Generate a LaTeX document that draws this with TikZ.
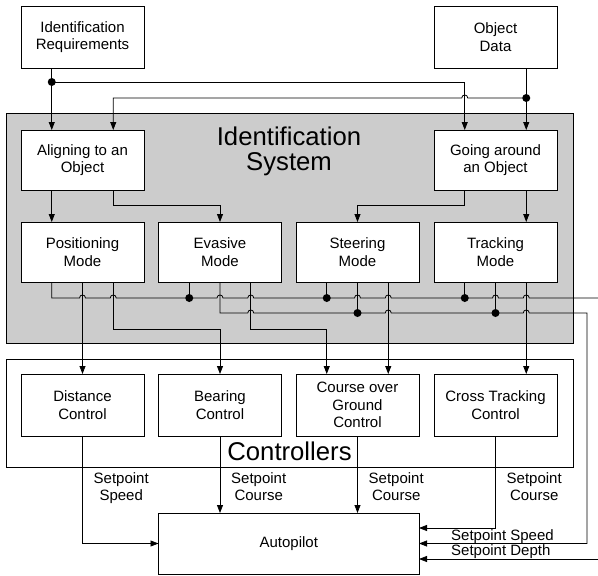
\documentclass[tikz,border=0pt]{standalone}
\usepackage{fontspec}
\setmainfont{Liberation Sans}
\usetikzlibrary{arrows.meta,calc}

\definecolor{sysgray}{RGB}{204,204,204}

% line jumps: a small bump where a horizontal wire crosses a vertical one
\newcommand\hopR[2]{-- ({#1-3},#2) .. controls ({#1-3},{#2-4}) and ({#1+3},{#2-4}) .. ({#1+3},#2)}
\newcommand\hopL[2]{-- ({#1+3},#2) .. controls ({#1+3},{#2-4}) and ({#1-3},{#2-4}) .. ({#1-3},#2)}

\begin{document}
\begin{tikzpicture}[x=1pt,y=-1pt,
  txt/.style={font=\fontsize{15}{17.5}\selectfont},
  box/.style={txt,draw,fill=white,line width=0.8pt,inner sep=0pt,outer sep=0pt,
    minimum width=123pt,minimum height=61pt,align=center},
  frame/.style={draw,line width=0.8pt},
  wire/.style={line width=0.8pt},
  arr/.style={wire,-{Triangle[length=8pt,width=6pt]}},
  dot/.style={circle,fill,inner sep=0pt,minimum size=8pt},
  lbl/.style={txt,inner sep=0pt,align=center,anchor=north west},
  title/.style={font=\fontsize{25.7}{25}\selectfont,inner sep=0pt,align=center}]
\useasboundingbox (0,0) rectangle (598,576);

% group frames
\draw[frame,fill=sysgray] (6,113) rectangle (573,343);
\draw[frame] (6,359) rectangle (573,467);
\node[title] (systitle) at (289,151.8) {Identification\\System};
\node[title,anchor=base] (ctrltitle) at (289.5,460) {Controllers};

% inputs
\node[box,minimum height=62pt] (req) at (82.5,37) {Identification\\Requirements};
\node[box,minimum height=62pt] (obj) at (495.5,37) {Object\\Data};

% identification system
\node[box,minimum height=60pt] (align) at (82.5,160) {Aligning to an\\Object};
\node[box,minimum height=60pt] (go) at (495.5,160) {Going around\\an Object};
\node[box,minimum height=60pt] (pos) at (82.5,252) {Positioning\\Mode};
\node[box,minimum height=60pt] (eva) at (220,252) {Evasive\\Mode};
\node[box,minimum height=60pt] (steer) at (357.5,252) {Steering\\Mode};
\node[box,minimum height=60pt] (track) at (495.5,252) {Tracking\\Mode};

% controllers
\node[box,minimum height=62pt] (dc) at (82.5,405) {Distance\\Control};
\node[box,minimum height=62pt] (bc) at (220,405) {Bearing\\Control};
\node[box,minimum height=62pt] (cg) at (357.5,405) {Course over\\Ground\\Control};
\node[box,minimum height=62pt] (ct) at (495.5,405) {Cross Tracking\\Control};

% autopilot
\node[box,minimum width=260.5pt,minimum height=61pt] (ap) at (288.75,543.5) {Autopilot};

% junctions and exits
\coordinate (jreq) at (51.75,82);
\coordinate (jobj) at (526.25,98);
\coordinate (busA) at (0,298);
\coordinate (busB) at (0,313);
\foreach \n in {pos,eva,steer,track}{
  \coordinate (\n1) at ([xshift=-30.75pt]\n.south);
  \coordinate (\n2) at (\n.south);
  \coordinate (\n3) at ([xshift=30.75pt]\n.south);
}
\coordinate (depthsrc) at (598,559);

% inputs to the identification system
\draw[wire] ([xshift=-30.75pt]req.south) -- (jreq);
\draw[arr] (jreq) -- ([xshift=-30.75pt]align.north);
\draw[arr] (jreq) -| ([xshift=-30.75pt]go.north);
\draw[wire] ([xshift=30.75pt]obj.south) -- (jobj);
\draw[arr] (jobj) -- ([xshift=30.75pt]go.north);
\draw[arr] (jobj) \hopL{464.75}{98} -| ([xshift=30.75pt]align.north);

% behaviours to modes
\draw[arr] ([xshift=-30.75pt]align.south) -- ([xshift=-30.75pt]pos.north);
\draw[arr] ([xshift=30.75pt]align.south) -- ++(0,15) -| (eva.north);
\draw[arr] ([xshift=-30.75pt]go.south) -- ++(0,15) -| (steer.north);
\draw[arr] ([xshift=30.75pt]go.south) -- ([xshift=30.75pt]track.north);

% depth bus
\draw[wire] (pos1) -- (pos1 |- busA)
  \hopR{82.5}{298} \hopR{113.25}{298} \hopR{220}{298} \hopR{250.75}{298}
  \hopR{357.5}{298} \hopR{388.25}{298} \hopR{495.5}{298} \hopR{526.25}{298}
  -- (598,298);
% speed bus
\draw[arr] (eva2) -- (eva2 |- busB)
  \hopR{250.75}{313} \hopR{388.25}{313} \hopR{526.25}{313}
  -- (587,313) |- (ap.east);

\draw[wire] (eva1) -- (eva1 |- busA);
\draw[wire] (steer1) -- (steer1 |- busA);
\draw[wire] (track1) -- (track1 |- busA);
\draw[wire] (steer2) -- (steer2 |- busB);
\draw[wire] (track2) -- (track2 |- busB);
\node[dot] (d1) at (eva1 |- busA) {};
\node[dot] (d2) at (steer1 |- busA) {};
\node[dot] (d3) at (track1 |- busA) {};
\node[dot] (d4) at (steer2 |- busB) {};
\node[dot] (d5) at (track2 |- busB) {};
\node[dot] (d6) at (jreq) {};
\node[dot] (d7) at (jobj) {};

% modes to controllers
\draw[arr] (pos2) -- (dc.north);
\draw[arr] (pos3) -- ++(0,47) -| (bc.north);
\draw[arr] (eva3) -- ++(0,47) -| ([xshift=-30.75pt]cg.north);
\draw[arr] (steer3) -- ([xshift=30.75pt]cg.north);
\draw[arr] (track3) -- ([xshift=30.75pt]ct.north);

% controllers to autopilot
\draw[arr] (dc.south) |- (ap.west);
\draw[arr] (bc.south) -- (bc.south |- ap.north);
\draw[arr] (cg.south) -- (cg.south |- ap.north);
\draw[arr] (ct.south) |- ([yshift=15.5pt]ap.east);
\draw[arr] (depthsrc) -- (depthsrc -| ap.east);

% setpoint labels
\node[lbl] (l1) at (93.5,472) {Setpoint\\Speed};
\node[lbl] (l2) at (231,472) {Setpoint\\Course};
\node[lbl] (l3) at (368.5,472) {Setpoint\\Course};
\node[lbl] (l4) at (506.5,472) {Setpoint\\Course};
\node[txt,inner sep=0pt,anchor=base west] (l5) at (451,540) {Setpoint Speed};
\node[txt,inner sep=0pt,anchor=base west] (l6) at (451,555) {Setpoint Depth};
\end{tikzpicture}
\end{document}
